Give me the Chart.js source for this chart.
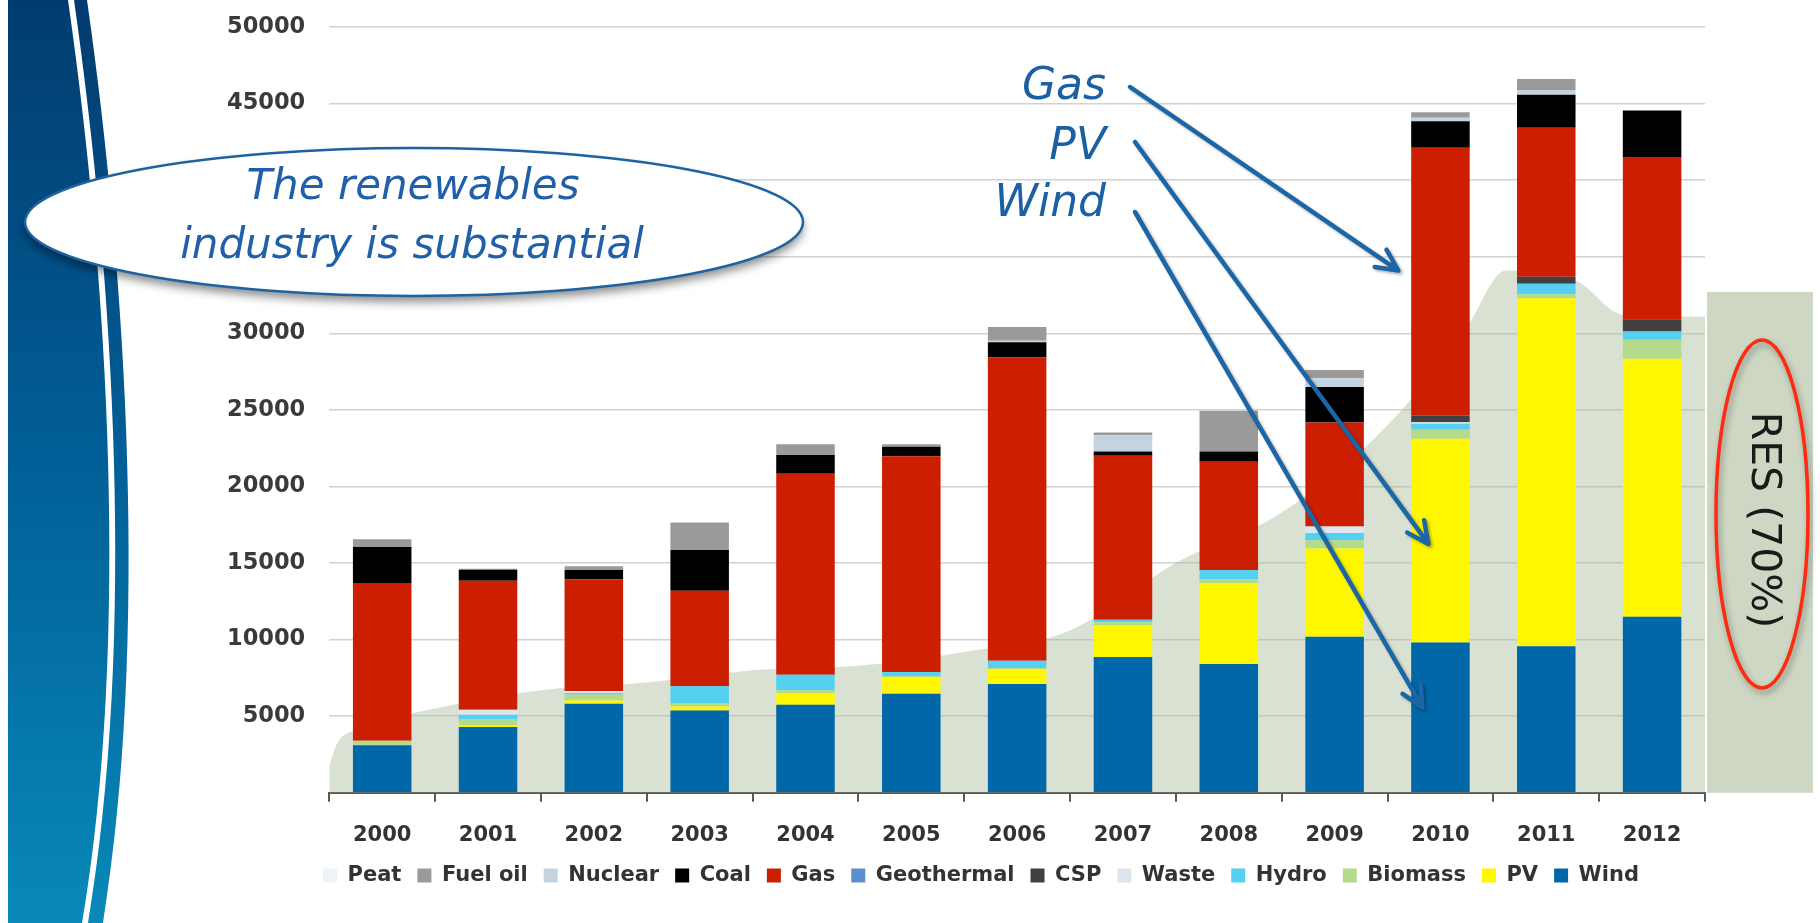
<!DOCTYPE html>
<html>
<head>
<meta charset="utf-8">
<title>Capacity by source 2000-2012</title>
<script src="https://cdn.jsdelivr.net/npm/chart.js@4.4.0/dist/chart.umd.min.js"></script>
<style>
  html, body { margin: 0; padding: 0; background: #fff; }
  #wrap { width: 1820px; height: 923px; }
</style>
</head>
<body>
<div id="wrap"><canvas id="grafica" width="1820" height="923"></canvas></div>
<script>
const years = ["2000", "2001", "2002", "2003", "2004", "2005", "2006", "2007", "2008", "2009", "2010", "2011", "2012"];

// stacked bottom to top
const wind       = [3100, 4300, 5810, 5380, 5750, 6470, 7110, 8860, 8410, 10190, 9810, 9570, 11500];
const pv         = [0, 100, 220, 260, 760, 1080, 950, 2080, 5290, 5760, 13300, 22720, 16840];
const biomass    = [300, 420, 390, 220, 190, 80, 90, 190, 240, 540, 600, 260, 1240];
const hydro      = [0, 280, 100, 1100, 1000, 250, 470, 170, 610, 470, 380, 680, 545];
const waste      = [0, 320, 120, 0, 0, 0, 0, 0, 0, 430, 100, 0, 0];
const csp        = [0, 0, 0, 0, 0, 0, 0, 0, 0, 0, 440, 470, 800];
const geothermal = [0, 0, 0, 0, 0, 0, 0, 0, 0, 0, 0, 0, 0];
const gas        = [10300, 8430, 7310, 6240, 13130, 14100, 19800, 10700, 7070, 6780, 17480, 9720, 10590];
const coal       = [2350, 720, 600, 2660, 1220, 610, 1000, 280, 660, 2320, 1740, 2150, 3040];
const nuclear    = [0, 0, 0, 0, 0, 0, 100, 1060, 0, 570, 220, 290, 0];
const fuelOil    = [500, 60, 240, 1790, 700, 160, 900, 190, 2670, 540, 370, 750, 0];
const peat       = [0, 0, 0, 0, 0, 0, 0, 0, 0, 0, 0, 0, 0];

// renewables backdrop (x in category units)
const resX = [-0.5, -0.42, -0.25, 0.5, 1.5, 2.5, 3.5, 4.5, 5.5, 6.5, 7.5, 8.5, 9.5, 10.24, 10.62, 11.29, 11.73, 12.5];
const resY = [1800, 3300, 4100, 5500, 6700, 7200, 8000, 8300, 9200, 10600, 15000, 18300, 24000, 30300, 34100, 33400, 31200, 31100];
const resBoxLevel = 32700;
const resLabel = "RES (70%)";

const yTicks = [0, 5000, 10000, 15000, 20000, 25000, 30000, 35000, 40000, 45000, 50000];

const calloutLines = ["The renewables", "industry is substantial"];

// arrows point into the 2010 bar
const arrowNotes = [
  { text: "Gas",  textY: 88,  fromX: 1130, fromY: 87,  year: 10, value: 34100, dx: -42 },
  { text: "PV",   textY: 148, fromX: 1135, fromY: 142, year: 10, value: 16250, dx: -12 },
  { text: "Wind", textY: 205, fromX: 1135, fromY: 212, year: 10, value: 5580,  dx: -18 },
];

const series = [
  { label: "Wind",       data: wind,       color: "#0068a8" },
  { label: "PV",         data: pv,         color: "#fff700" },
  { label: "Biomass",    data: biomass,    color: "#b3db8b" },
  { label: "Hydro",      data: hydro,      color: "#55d0f0" },
  { label: "Waste",      data: waste,      color: "#dde6ee" },
  { label: "CSP",        data: csp,        color: "#404040" },
  { label: "Geothermal", data: geothermal, color: "#5b8fcc" },
  { label: "Gas",        data: gas,        color: "#cc1e00" },
  { label: "Coal",       data: coal,       color: "#000000" },
  { label: "Nuclear",    data: nuclear,    color: "#c3d4e0" },
  { label: "Fuel oil",   data: fuelOil,    color: "#9a9a9a" },
  { label: "Peat",       data: peat,       color: "#eef3f8" },
];

const datasets = series.map((s) => ({
  type: "bar",
  label: s.label,
  data: s.data,
  backgroundColor: s.color,
  borderWidth: 0,
  grouped: false,
  barPercentage: 0.553,
  categoryPercentage: 1,
  order: 0,
}));

datasets.push({
  type: "line",
  label: "RES",
  xAxisID: "xArea",
  data: resX.map((x, i) => ({ x: x, y: resY[i] })),
  backgroundColor: "rgba(170, 190, 155, 0.45)",
  borderWidth: 0,
  pointRadius: 0,
  fill: "origin",
  cubicInterpolationMode: "monotone",
  order: 5,
});

function drawArrow(ctx, x1, y1, x2, y2) {
  const ang = Math.atan2(y2 - y1, x2 - x1);
  const leg = 24;
  ctx.beginPath();
  ctx.moveTo(x1, y1);
  ctx.lineTo(x2, y2);
  ctx.moveTo(x2 - leg * Math.cos(ang - 0.45), y2 - leg * Math.sin(ang - 0.45));
  ctx.lineTo(x2, y2);
  ctx.lineTo(x2 - leg * Math.cos(ang + 0.45), y2 - leg * Math.sin(ang + 0.45));
  ctx.stroke();
}

const decor = {
  id: "decor",
  afterLayout(chart) {
    // legend sits a bit right of the padded centre
    chart.legend.left += 27;
    chart.legend.right += 27;
  },
  beforeDraw(chart) {
    const ctx = chart.ctx;
    const h = chart.height;
    ctx.save();
    ctx.fillStyle = "#ffffff";
    ctx.fillRect(0, 0, chart.width, h);

    // blue band on the left
    const grad = ctx.createLinearGradient(0, 0, 0, h);
    grad.addColorStop(0, "#013c70");
    grad.addColorStop(0.5, "#015f97");
    grad.addColorStop(1, "#0889b8");
    ctx.fillStyle = grad;
    ctx.beginPath();
    ctx.moveTo(8, 0);
    ctx.lineTo(68, 0);
    ctx.bezierCurveTo(108, 280, 130, 640, 82, h);
    ctx.lineTo(8, h);
    ctx.closePath();
    ctx.fill();

    ctx.beginPath();
    ctx.moveTo(74, 0);
    ctx.lineTo(87, 0);
    ctx.bezierCurveTo(127, 280, 149, 640, 103, h);
    ctx.lineTo(88, h);
    ctx.bezierCurveTo(136, 640, 114, 280, 74, 0);
    ctx.closePath();
    ctx.fill();

    ctx.strokeStyle = "#ffffff";
    ctx.lineWidth = 3;
    ctx.beginPath();
    ctx.moveTo(71, 0);
    ctx.bezierCurveTo(111, 280, 133, 640, 85, h);
    ctx.stroke();
    ctx.restore();
  },
  beforeDatasetsDraw(chart) {
    const ctx = chart.ctx;
    const area = chart.chartArea;
    const top = chart.scales.y.getPixelForValue(resBoxLevel);
    ctx.save();
    ctx.fillStyle = "#cdd7c3";
    ctx.fillRect(area.right + 2, top, 106, area.bottom - top);
    ctx.restore();
  },
  afterDraw(chart) {
    const ctx = chart.ctx;
    const xs = chart.scales.x;
    const ys = chart.scales.y;
    ctx.save();

    // callout ellipse
    ctx.shadowColor = "rgba(0, 0, 0, 0.45)";
    ctx.shadowBlur = 10;
    ctx.shadowOffsetY = 6;
    ctx.fillStyle = "#ffffff";
    ctx.beginPath();
    ctx.ellipse(414, 222, 389, 74, 0, 0, Math.PI * 2);
    ctx.fill();
    ctx.shadowColor = "transparent";
    ctx.strokeStyle = "#1d62a3";
    ctx.lineWidth = 2.5;
    ctx.stroke();

    ctx.fillStyle = "#1f60a8";
    ctx.font = 'italic 42px "DejaVu Sans"';
    ctx.textAlign = "center";
    ctx.textBaseline = "middle";
    ctx.fillText(calloutLines[0], 413, 188);
    ctx.fillText(calloutLines[1], 412, 247);

    // Gas / PV / Wind notes
    ctx.font = 'italic 44px "DejaVu Sans"';
    ctx.textAlign = "right";
    ctx.fillStyle = "#1c5fa3";
    arrowNotes.forEach((n) => ctx.fillText(n.text, 1106, n.textY));

    ctx.shadowColor = "rgba(0, 0, 0, 0.3)";
    ctx.shadowBlur = 3;
    ctx.shadowOffsetX = 2;
    ctx.shadowOffsetY = 2;
    ctx.strokeStyle = "#1a66a6";
    ctx.lineWidth = 4.5;
    ctx.lineCap = "round";
    ctx.lineJoin = "round";
    arrowNotes.forEach((n) => {
      const tx = xs.getPixelForValue(n.year) + n.dx;
      const ty = ys.getPixelForValue(n.value);
      drawArrow(ctx, n.fromX, n.fromY, tx, ty);
    });

    // RES share label
    ctx.shadowColor = "rgba(0, 0, 0, 0.35)";
    ctx.shadowBlur = 6;
    ctx.shadowOffsetX = 2;
    ctx.shadowOffsetY = 4;
    ctx.strokeStyle = "#ff2a10";
    ctx.lineWidth = 3.5;
    ctx.beginPath();
    ctx.ellipse(1762, 514, 46, 174, 0, 0, Math.PI * 2);
    ctx.stroke();
    ctx.shadowColor = "transparent";

    ctx.translate(1763, 520);
    ctx.rotate(Math.PI / 2);
    ctx.fillStyle = "#1a1a1a";
    ctx.font = '41px "DejaVu Sans"';
    ctx.textAlign = "center";
    ctx.textBaseline = "middle";
    ctx.fillText(resLabel, 0, 0);
    ctx.restore();
  },
};

new Chart(document.getElementById("grafica"), {
  type: "bar",
  data: { labels: years, datasets: datasets },
  plugins: [decor],
  options: {
    responsive: false,
    animation: false,
    devicePixelRatio: 1,
    layout: { padding: { left: 203, right: 115, top: 27, bottom: 27 } },
    plugins: {
      tooltip: { enabled: false },
      legend: {
        position: "bottom",
        reverse: true,
        labels: {
          filter: (item) => item.text !== "RES",
          boxWidth: 14,
          boxHeight: 14,
          padding: 16,
          color: "#333333",
          font: { family: "DejaVu Sans", size: 21, weight: "bold" },
        },
      },
    },
    scales: {
      x: {
        stacked: true,
        grid: { display: true, drawOnChartArea: false, drawTicks: true, tickLength: 9, color: "#595959", lineWidth: 2 },
        border: { display: true, color: "#595959", width: 2 },
        ticks: { color: "#333333", padding: 21, font: { family: "DejaVu Sans", size: 21, weight: "bold" } },
        afterFit: (scale) => { scale.height -= 20; },
      },
      xArea: {
        type: "linear",
        display: false,
        offset: false,
        bounds: "data",
        min: -0.5,
        max: 12.5,
      },
      y: {
        stacked: true,
        min: 0,
        max: 50000,
        afterBuildTicks: (scale) => { scale.ticks = yTicks.map((v) => ({ value: v })); },
        afterFit: (scale) => { scale.paddingTop = 0; scale.paddingBottom = 0; },
        grid: { color: "#d2d2d2", lineWidth: 1.5, drawTicks: false },
        border: { display: false },
        ticks: {
          padding: 24,
          color: "#3a3a3a",
          font: { family: "DejaVu Sans", size: 22.5, weight: "bold" },
          callback: (v) => (v === 0 ? "" : v),
        },
      },
    },
  },
});
</script>
</body>
</html>
